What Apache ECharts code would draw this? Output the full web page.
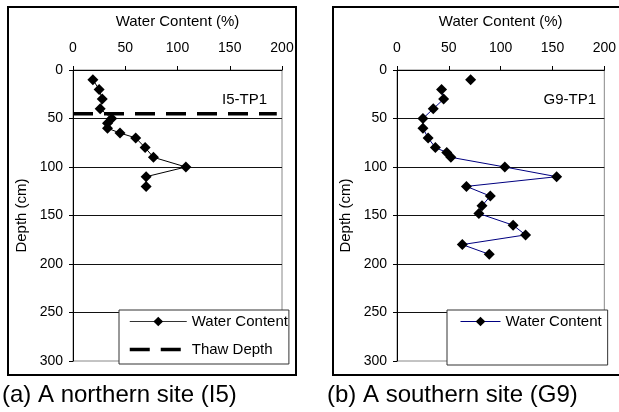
<!DOCTYPE html>
<html><head><meta charset="utf-8">
<script src="https://cdn.jsdelivr.net/npm/echarts@6/dist/echarts.min.js"></script>
<style>html,body{margin:0;padding:0;background:#fff}#c{width:619px;height:412px}</style>
</head><body><div id="c"></div>
<script>
const FONT = 'Arial, "Liberation Sans", sans-serif';
// x axis (water content %) and depth axis ticks
const xTicks = [0, 50, 100, 150, 200];
const depthTicks = [0, 50, 100, 150, 200, 250, 300];
// (a) northern site I5-TP1
const i5Depth = [10, 20, 30, 40, 50, 55, 60, 65, 70, 80, 90, 100, 110, 120];
const i5Water = [19, 25, 28, 26, 37, 33, 33, 45, 60, 69, 77, 108, 70, 70];
const thawDepth = 45;
const thawExtent = [0, 195];
// (b) southern site G9-TP1 (first point not joined to the rest)
const g9Depth = [10, 20, 30, 40, 50, 60, 70, 80, 85, 90, 100, 110, 120, 130, 140, 148, 160, 170, 180, 190];
const g9Water = [71, 43, 45, 35, 25, 25, 30, 37, 48, 52, 104, 154, 67, 90, 82, 79, 112, 124, 63, 89];
const g9BreakAfter = 1;

const i5Data = i5Depth.map((d, i) => [i5Water[i], d]);
const g9Data = [];
g9Depth.forEach((d, i) => {
  if (i === g9BreakAfter) g9Data.push(['-', '-']);
  g9Data.push([g9Water[i], d]);
});
const thawData = thawExtent.map(x => [x, thawDepth]);

const THAW_DASH = [20, 11];

function xAx(gi) {
  return {
    gridIndex: gi, type: 'value', position: 'top',
    min: xTicks[0], max: xTicks[xTicks.length - 1], interval: xTicks[1] - xTicks[0],
    name: 'Water Content (%)', nameLocation: 'middle', nameGap: 41,
    nameTextStyle: { fontSize: 15, color: '#000', fontFamily: FONT },
    axisLine: { show: true, lineStyle: { color: '#000', width: 1 } },
    axisTick: { show: true, inside: false, length: 4, lineStyle: { color: '#000' } },
    axisLabel: { fontSize: 14, color: '#000', fontFamily: FONT, margin: 15 },
    splitLine: { show: false }
  };
}
function yAx(gi) {
  return {
    gridIndex: gi, type: 'value', inverse: true,
    min: depthTicks[0], max: depthTicks[depthTicks.length - 1], interval: depthTicks[1] - depthTicks[0],
    name: 'Depth (cm)', nameLocation: 'middle', nameGap: 44, nameRotate: 90,
    nameTextStyle: { fontSize: 15, color: '#000', fontFamily: FONT },
    axisLine: { show: true, lineStyle: { color: '#000', width: 1 } },
    axisTick: { show: true, inside: false, length: 4, lineStyle: { color: '#000' } },
    axisLabel: { fontSize: 14, color: '#000', fontFamily: FONT, margin: 10 },
    splitLine: { show: true, showMinLine: false, showMaxLine: false, lineStyle: { color: '#111', width: 1 } }
  };
}

const chart = echarts.init(document.getElementById('c'), null, { renderer: 'canvas' });
chart.setOption({
  animation: false,
  backgroundColor: '#fff',
  textStyle: { fontFamily: FONT },
  grid: [
    { left: 73, top: 70, width: 209, height: 291, show: true, borderColor: '#888', borderWidth: 1, backgroundColor: 'transparent' },
    { left: 397, top: 70, width: 210, height: 291, show: true, borderColor: '#888', borderWidth: 1, backgroundColor: 'transparent' }
  ],
  xAxis: [xAx(0), xAx(1)],
  yAxis: [yAx(0), yAx(1)],
  legend: [
    {
      data: [
        { name: 'Water Content', lineStyle: { width: 1, color: '#333' } },
        { name: 'Thaw Depth', lineStyle: { width: 3.5, color: '#000', type: THAW_DASH }, itemStyle: { opacity: 0 } }
      ],
      orient: 'vertical', left: 119, top: 310,
      itemWidth: 57, itemHeight: 12, itemGap: 13, itemTextGap: 4,
      padding: [4, 1, 7, 9], borderColor: '#333', borderWidth: 1, backgroundColor: '#fff',
      textStyle: { fontSize: 15, color: '#000', fontFamily: FONT }, selectedMode: false
    },
    {
      data: [{ name: 'G9 Water Content', lineStyle: { width: 1, color: '#000080' } }],
      orient: 'vertical', left: 447, top: 310,
      itemWidth: 40, itemHeight: 12, itemTextGap: 3,
      padding: [4, 6, 36, 13], borderColor: '#333', borderWidth: 1, backgroundColor: '#fff',
      formatter: () => 'Water Content',
      textStyle: { fontSize: 15, color: '#000', fontFamily: FONT }, selectedMode: false
    }
  ],
  series: [
    {
      name: 'Thaw Depth', type: 'line', xAxisIndex: 0, yAxisIndex: 0, data: thawData,
      symbol: 'none', lineStyle: { color: '#000', width: 3.5, type: THAW_DASH }, itemStyle: { color: '#000' }, z: 2
    },
    {
      name: 'Water Content', type: 'line', xAxisIndex: 0, yAxisIndex: 0, data: i5Data,
      symbol: 'diamond', symbolSize: 11, showAllSymbol: true,
      lineStyle: { color: '#000', width: 1 }, itemStyle: { color: '#000' }, z: 3
    },
    {
      name: 'G9 Water Content', type: 'line', xAxisIndex: 1, yAxisIndex: 1, data: g9Data,
      symbol: 'diamond', symbolSize: 11, showAllSymbol: true, connectNulls: false,
      lineStyle: { color: '#000080', width: 1 }, itemStyle: { color: '#000' }, z: 3
    }
  ],
  graphic: [
    { type: 'rect', shape: { x: 8, y: 7, width: 288, height: 368 }, style: { fill: 'none', stroke: '#000', lineWidth: 2 }, z: 0, silent: true },
    { type: 'rect', shape: { x: 333, y: 7, width: 300, height: 368 }, style: { fill: 'none', stroke: '#000', lineWidth: 2 }, z: 0, silent: true },
    { type: 'text', x: 267, y: 100, style: { text: 'I5-TP1', font: '15px ' + FONT, fill: '#000', textAlign: 'right', textVerticalAlign: 'middle' }, z: 10 },
    { type: 'text', x: 596, y: 100, style: { text: 'G9-TP1', font: '15px ' + FONT, fill: '#000', textAlign: 'right', textVerticalAlign: 'middle' }, z: 10 },
    { type: 'text', x: 2, y: 395, style: { text: '(a) A northern site (I5)', font: '24px ' + FONT, fill: '#000', textAlign: 'left', textVerticalAlign: 'middle' }, z: 10 },
    { type: 'text', x: 327, y: 395, style: { text: '(b) A southern site (G9)', font: '24px ' + FONT, fill: '#000', textAlign: 'left', textVerticalAlign: 'middle' }, z: 10 }
  ]
});
</script></body></html>
